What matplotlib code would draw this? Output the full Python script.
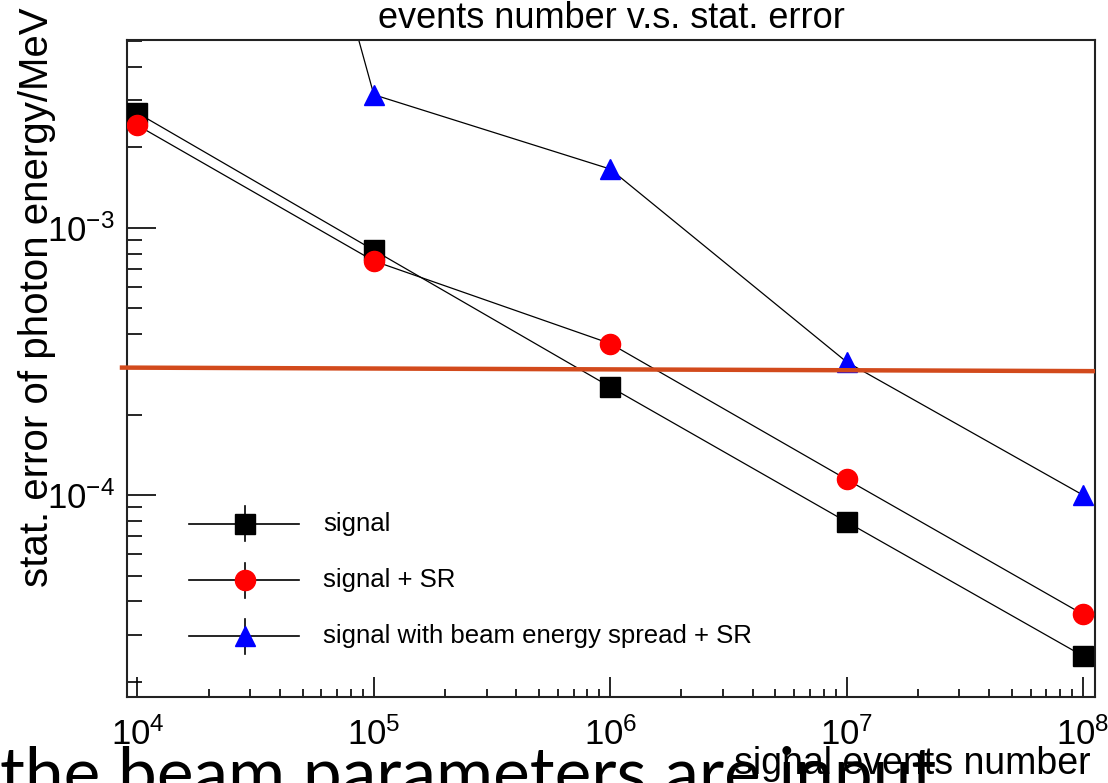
import numpy as np
import matplotlib
matplotlib.use("Agg")
import matplotlib.pyplot as plt
from matplotlib.ticker import LogLocator, FixedLocator, NullFormatter

plt.rcParams['font.family'] = ['Liberation Sans', 'DejaVu Sans']
plt.rcParams['mathtext.fontset'] = 'custom'
plt.rcParams['mathtext.rm'] = 'Liberation Sans'
plt.rcParams['mathtext.it'] = 'Liberation Sans:italic'

# events number (x) and stat. error of photon energy in MeV (y)
events = [1e4, 1e5, 1e6, 1e7, 1e8]
err_signal = [2.69e-3, 8.25e-4, 2.54e-4, 7.94e-5, 2.50e-5]
err_signal_sr = [2.42e-3, 7.52e-4, 3.69e-4, 1.145e-4, 3.58e-5]
err_spread_sr = [5.0, 3.15e-3, 1.66e-3, 3.15e-4, 1.0e-4]

series_labels = ["signal", "signal + SR", "signal with beam energy spread + SR"]

# hand-drawn reference line (slightly tilted)
ref_x = [8.6e3, 1.1e8]
ref_y = [3.0e-4, 2.91e-4]

x_ticks = [1e4, 1e5, 1e6, 1e7, 1e8]
x_ticklabels = ["$10^{4}$", "$10^{5}$", "$10^{6}$", "$10^{7}$", "$10^{8}$"]
y_ticks = [1e-4, 1e-3]
y_ticklabels = ["$10^{-4}$", "$10^{-3}$"]

W, H = 1108, 783
fig = plt.figure(figsize=(W / 100, H / 100), dpi=100)
ax = fig.add_axes([127 / W, 1 - 696.7 / H, (1095 - 127) / W, (696.7 - 39.5) / H])

ax.set_xscale('log')
ax.set_yscale('log')
ax.set_xlim(9.03e3, 1.124e8)
ax.set_ylim(1.76e-5, 5.07e-3)

styles = [
    dict(marker='s', color='black', ms=15),
    dict(marker='o', color='red', ms=14.5),
    dict(marker='^', color='blue', ms=14),
]
for ys, st in zip([err_signal, err_signal_sr, err_spread_sr], styles):
    ax.plot(events, ys, '-', color='black', lw=0.9, zorder=2)
    ax.plot(events, ys, ls='none', marker=st['marker'], ms=st['ms'],
            mfc=st['color'], mec=st['color'], zorder=3)

ax.plot(ref_x, ref_y, color='#d24a1c', lw=3.2, clip_on=False, zorder=4)

# ROOT-like axes
ax.xaxis.set_major_locator(FixedLocator(x_ticks))
ax.set_xticklabels(x_ticklabels)
ax.xaxis.set_minor_locator(LogLocator(base=10, subs=np.arange(2, 10)))
ax.xaxis.set_minor_formatter(NullFormatter())
ax.yaxis.set_major_locator(FixedLocator(y_ticks))
ax.set_yticklabels(y_ticklabels)
ax.yaxis.set_minor_locator(LogLocator(base=10, subs=np.arange(2, 10)))
ax.yaxis.set_minor_formatter(NullFormatter())

ax.tick_params(axis='x', which='major', direction='in', length=14.5, width=1.2,
               labelsize=25, pad=15, top=False)
ax.tick_params(axis='x', which='minor', direction='in', length=6, width=1.2, top=False)
ax.tick_params(axis='y', which='major', direction='in', length=21, width=1.2,
               labelsize=25, pad=9, right=False)
ax.tick_params(axis='y', which='minor', direction='in', length=11, width=1.2, right=False)
for sp in ax.spines.values():
    sp.set_linewidth(1.5)
    sp.set_color('#222222')

ax.set_title("events number v.s. stat. error", fontsize=26, pad=8)

ax.set_xlabel("signal events number", fontsize=27)
ax.xaxis.set_label_coords(1.0 - 4 / 968, (696.7 - 774) / 657.4)
ax.xaxis.label.set(ha='right', va='baseline')

ax.set_ylabel("stat. error of photon energy/MeV", fontsize=29)
ax.yaxis.set_label_coords((37 - 127) / 968, (696.7 - 7) / 657.4)
ax.yaxis.label.set(ha='center', va='top', rotation_mode='default')

# legend drawn ROOT style (marker with error-bar cross)
leg_rows = [0.263, 0.1775, 0.0923]
for lab, st, yy in zip(series_labels, styles, leg_rows):
    ax.plot([0.064, 0.178], [yy, yy], color='black', lw=1.2, transform=ax.transAxes)
    ax.plot([0.122, 0.122], [yy - 0.0266, yy + 0.0266], color='black', lw=1.2,
            transform=ax.transAxes)
    ax.plot([0.122], [yy], ls='none', marker=st['marker'], ms=st['ms'],
            mfc=st['color'], mec=st['color'], transform=ax.transAxes)
    ax.text(0.2025, yy, lab, fontsize=18.5, va='center', ha='left',
            transform=ax.transAxes)

# slide caption cut off by the bottom edge
fig.text(0.0, 1 - 797 / H, "the beam parameters are input", fontsize=50,
         family=['Lato', 'DejaVu Sans'], va='baseline', ha='left')

fig.savefig("out.png", dpi=100)
